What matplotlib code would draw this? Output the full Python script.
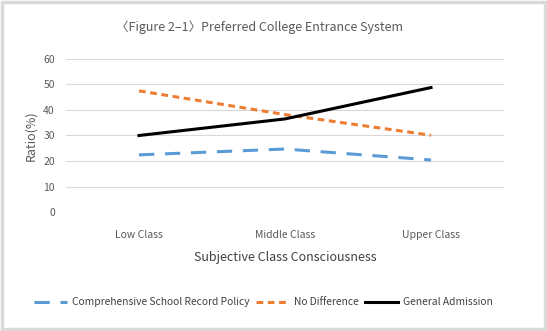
import matplotlib.pyplot as plt
from matplotlib.patches import Rectangle

plt.rcParams['font.family'] = ['Noto Sans CJK KR', 'DejaVu Sans']

classes = ['Low Class', 'Middle Class', 'Upper Class']
comprehensive = [22.4, 24.7, 20.4]
no_difference = [47.5, 38.2, 30.1]
general = [30.0, 36.5, 48.8]
series_names = ['Comprehensive School Record Policy', 'No Difference', 'General Admission']

fig = plt.figure(figsize=(5.47, 3.31), dpi=100)
ax = fig.add_axes([0.1207, 0.3595, 0.8007, 0.4623])

x = range(len(classes))
ax.plot(x, comprehensive, color='#5b9bd5', lw=2.2, ls=(0, (5, 3.5)), label=series_names[0])
ax.plot(x, no_difference, color='#ed7d31', lw=2.2, ls=(0, (2.2, 1.5)), label=series_names[1])
ax.plot(x, general, color='black', lw=2.2, label=series_names[2])

ax.set_xlim(-0.5, 2.5)
ax.set_ylim(0, 60)
ax.set_yticks(range(0, 61, 10))
ax.set_xticks(list(x))
ax.set_xticklabels(classes)
ax.grid(axis='y', color='#d9d9d9', lw=0.8)
ax.set_axisbelow(True)
for s in ax.spines.values():
    s.set_visible(False)
ax.tick_params(length=0, labelsize=7.5, labelcolor='#595959')
ax.tick_params(axis='x', pad=13)
ax.tick_params(axis='y', pad=8)

ax.set_xlabel('Subjective Class Consciousness', fontsize=9, color='#404040', labelpad=8)
ax.set_ylabel('Ratio(%)', fontsize=9, color='#595959', labelpad=4)

fig.text(0.475, 0.918, '〈Figure 2–1〉Preferred College Entrance System', ha='center', va='center',
         fontsize=9, color='#595959')

fig.legend(loc='center', bbox_to_anchor=(0.482, 0.087), ncol=3, frameon=False, fontsize=7.4,
           handlelength=3.2, columnspacing=0.6, handletextpad=0.5, labelcolor='#404040')

fig.patches.append(Rectangle((0.004, 0.006), 0.992, 0.988, transform=fig.transFigure,
                             fill=False, edgecolor='#d9d9d9', lw=2.5))

fig.savefig('out.png', dpi=100)
